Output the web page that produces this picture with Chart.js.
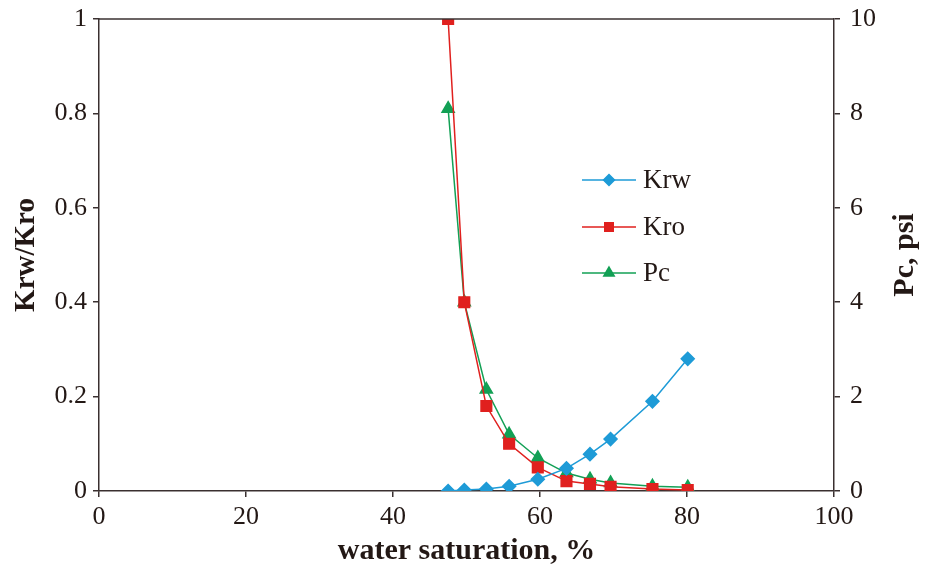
<!DOCTYPE html>
<html><head><meta charset="utf-8">
<script src="https://cdn.jsdelivr.net/npm/chart.js@4"></script>
<style>html,body{margin:0;padding:0;background:#fff}#wrap{width:931px;height:571px}</style>
</head><body><div id="wrap"><canvas id="c" width="931" height="571"></canvas></div>
<script>
const saturation = [47.5, 49.7, 52.7, 55.8, 59.7, 63.6, 66.8, 69.6, 75.3, 80.1];
const krw = [0, 0.002, 0.004, 0.01, 0.025, 0.048, 0.078, 0.11, 0.19, 0.28];
const kro = [1.0, 0.40, 0.18, 0.10, 0.05, 0.021, 0.015, 0.009, 0.004, 0.002];
const pc = [8.1, 4.0, 2.15, 1.2, 0.7, 0.38, 0.25, 0.17, 0.1, 0.08];
const xTicks = [0, 20, 40, 60, 80, 100];
const leftTicks = [0, 0.2, 0.4, 0.6, 0.8, 1];
const rightTicks = [0, 2, 4, 6, 8, 10];
const seriesNames = ['Krw', 'Kro', 'Pc'];

const BLUE = '#1e9bd7', RED = '#e0201e', GREEN = '#12a055', AX = '#3a3030', TXT = '#231815';
const FONT = '"Liberation Serif", "DejaVu Serif", serif';

function pts(ys){ return saturation.map((x,i)=>({x:x,y:ys[i]})); }
function fmt(v){ return String(Math.round(v*10)/10); }
function noPad(s){ s.paddingTop = 0; s.paddingBottom = 0; s.paddingLeft = 0; s.paddingRight = 0; }

const legendPlugin = {
  id:'customLegend',
  afterDraw(chart){
    const ctx = chart.ctx;
    const ca = chart.chartArea;
    ctx.save();
    ctx.strokeStyle = AX; ctx.lineWidth = 1.5;
    ctx.beginPath(); ctx.moveTo(ca.left, ca.top); ctx.lineTo(ca.right, ca.top); ctx.stroke();
    ctx.fillStyle = TXT;
    ctx.font = 'bold 30px ' + FONT;
    ctx.translate(905, 255);
    ctx.rotate(-Math.PI/2);
    ctx.textAlign='center'; ctx.textBaseline='middle';
    ctx.fillText('Pc, psi', 0, 0);
    ctx.restore();
    const rows = [180, 227, 273];
    chart.data.datasets.forEach((ds, i) => {
      const y = rows[i];
      ctx.save();
      ctx.strokeStyle = ds.borderColor; ctx.lineWidth = 1.5;
      ctx.beginPath(); ctx.moveTo(582, y); ctx.lineTo(636, y); ctx.stroke();
      ctx.fillStyle = ds.borderColor;
      ctx.strokeStyle = ds.borderColor;
      Chart.helpers.drawPoint(ctx, {pointStyle: ds.pointStyle, radius: ds.legendRadius, borderWidth: 1}, 609, y);
      ctx.fillStyle = TXT;
      ctx.font = '27px ' + FONT;
      ctx.textAlign='left'; ctx.textBaseline='middle';
      ctx.fillText(ds.label, 643, y+1);
      ctx.restore();
    });
  }
};

new Chart(document.getElementById('c'), {
  type:'line',
  data:{datasets:[
    {label:seriesNames[0], data:pts(krw), yAxisID:'y', borderColor:BLUE, backgroundColor:BLUE, pointStyle:'rectRot', pointRadius:6.5, legendRadius:5.5, borderWidth:1.5, order:0},
    {label:seriesNames[1], data:pts(kro), yAxisID:'y', borderColor:RED, backgroundColor:RED, pointStyle:'rect', pointRadius:7.5, legendRadius:6, borderWidth:1.5, order:1},
    {label:seriesNames[2], data:pts(pc), yAxisID:'y2', borderColor:GREEN, backgroundColor:GREEN, pointStyle:'triangle', pointRadius:7, legendRadius:6, borderWidth:1.5, order:2}
  ]},
  options:{
    responsive:false, animation:false,
    layout:{padding:{top:19, left:0, right:0, bottom:0}},
    plugins:{legend:{display:false}, tooltip:{enabled:false}},
    scales:{
      x:{type:'linear', min:0, max:100,
        afterBuildTicks(s){ s.ticks = xTicks.map(v=>({value:v})); },
        afterFit(s){ s.height = 80; noPad(s); },
        grid:{drawOnChartArea:false, drawTicks:true, tickLength:6, color:AX, lineWidth:1.5},
        border:{display:true, color:AX, width:1.5},
        ticks:{color:TXT, font:{family:FONT, size:26}, padding:5, maxRotation:0, callback:fmt},
        title:{display:true, text:'water saturation, %', color:TXT, font:{family:FONT, size:30, weight:'bold'}, padding:{top:0, bottom:2}}
      },
      y:{type:'linear', position:'left', min:0, max:1,
        afterBuildTicks(s){ s.ticks = leftTicks.map(v=>({value:v})); },
        afterFit(s){ s.width = 99; noPad(s); },
        grid:{drawOnChartArea:false, drawTicks:true, tickLength:6, color:AX, lineWidth:1.5},
        border:{display:true, color:AX, width:1.5},
        ticks:{color:TXT, font:{family:FONT, size:26}, padding:6, callback:fmt},
        title:{display:true, text:'Krw/Kro', color:TXT, font:{family:FONT, size:29, weight:'bold'}, padding:{top:9, bottom:0}}
      },
      y2:{type:'linear', position:'right', min:0, max:10,
        afterBuildTicks(s){ s.ticks = rightTicks.map(v=>({value:v})); },
        afterFit(s){ s.width = 97; noPad(s); },
        grid:{drawOnChartArea:false, drawTicks:true, tickLength:6, color:AX, lineWidth:1.5},
        border:{display:true, color:AX, width:1.5},
        ticks:{color:TXT, font:{family:FONT, size:26}, padding:10, callback:fmt}
      }
    }
  },
  plugins:[legendPlugin]
});
</script></body></html>
